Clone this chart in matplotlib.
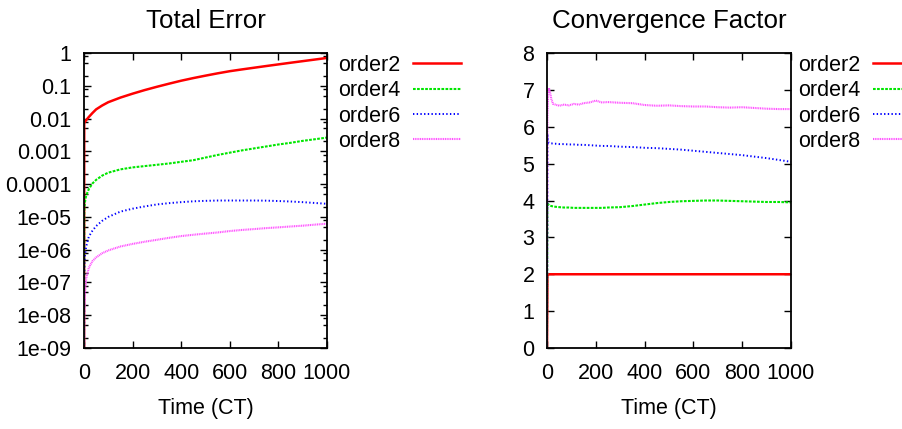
import matplotlib
matplotlib.use("Agg")
import matplotlib.pyplot as plt
from matplotlib.ticker import LogLocator, FixedLocator, NullFormatter

plt.rcParams['font.family'] = ['Liberation Sans', 'DejaVu Sans']
plt.rcParams['font.size'] = 15.5

# ---- data ----
labels = ['order2', 'order4', 'order6', 'order8']

t_err = [0, 1, 2, 4, 7, 10, 20, 35, 50, 75, 100, 150, 200, 250, 300, 350, 400,
         450, 500, 550, 600, 650, 700, 750, 800, 850, 900, 950, 1000]
err2 = [1e-12, 0.00708, 0.00759, 0.00794, 0.00851, 0.00912, 0.0112, 0.0148,
        0.0191, 0.0251, 0.0316, 0.0437, 0.0575, 0.0741, 0.0933, 0.116, 0.143,
        0.172, 0.204, 0.240, 0.279, 0.316, 0.356, 0.401, 0.450, 0.505, 0.565,
        0.632, 0.708]
err4 = [1e-12, 1.26e-5, 2.0e-5, 2.82e-5, 3.8e-5, 4.68e-5, 7.08e-5, 1.05e-4,
        1.35e-4, 1.82e-4, 2.24e-4, 2.82e-4, 3.24e-4, 3.55e-4, 3.89e-4, 4.27e-4,
        4.79e-4, 5.37e-4, 6.46e-4, 7.76e-4, 9.12e-4, 1.07e-3, 1.23e-3, 1.41e-3,
        1.62e-3, 1.82e-3, 2.09e-3, 2.34e-3, 2.63e-3]
err6 = [1e-12, 1.58e-7, 3.55e-7, 6.3e-7, 1.0e-6, 1.32e-6, 2.51e-6, 3.8e-6,
        5.25e-6, 7.59e-6, 1.0e-5, 1.45e-5, 1.78e-5, 2.09e-5, 2.4e-5, 2.63e-5,
        2.82e-5, 2.99e-5, 3.09e-5, 3.16e-5, 3.16e-5, 3.16e-5, 3.16e-5, 3.13e-5,
        3.05e-5, 2.95e-5, 2.82e-5, 2.66e-5, 2.51e-5]
err8 = [1e-12, 3e-9, 1.5e-8, 4.5e-8, 9e-8, 1.4e-7, 2.8e-7, 4.5e-7, 5.8e-7, 7.8e-7,
        9.5e-7, 1.25e-6, 1.5e-6, 1.75e-6, 2.0e-6, 2.3e-6, 2.6e-6, 2.85e-6, 3.1e-6,
        3.35e-6, 3.7e-6, 4.0e-6, 4.25e-6, 4.55e-6, 4.8e-6, 5.1e-6, 5.4e-6, 5.8e-6,
        6.2e-6]

t_conv = [0, 2, 5, 8, 12, 18, 25, 35, 50, 70, 90, 110, 130, 150, 175, 200, 225,
          250, 300, 350, 400, 450, 500, 550, 600, 650, 700, 750, 800, 850, 900,
          950, 1000]
conv2 = [0] + [2.0] * 32
conv4 = [0, 3.95, 3.90, 3.88, 3.86, 3.85, 3.84, 3.83, 3.82, 3.81, 3.81, 3.80,
         3.80, 3.80, 3.80, 3.80, 3.80, 3.81, 3.82, 3.85, 3.89, 3.93, 3.96, 3.98,
         3.99, 4.00, 4.00, 3.99, 3.98, 3.97, 3.96, 3.96, 3.95]
conv6 = [0, 5.80, 5.60, 5.56, 5.55, 5.55, 5.54, 5.54, 5.53, 5.53, 5.52, 5.52,
         5.51, 5.51, 5.50, 5.49, 5.48, 5.48, 5.46, 5.45, 5.43, 5.42, 5.40, 5.38,
         5.35, 5.32, 5.29, 5.26, 5.23, 5.19, 5.15, 5.10, 5.05]
conv8 = [0, 6.30, 6.90, 7.05, 6.95, 6.75, 6.62, 6.60, 6.57, 6.60, 6.58, 6.62,
         6.60, 6.64, 6.66, 6.71, 6.66, 6.67, 6.65, 6.64, 6.59, 6.57, 6.58, 6.56,
         6.55, 6.55, 6.53, 6.52, 6.53, 6.51, 6.49, 6.48, 6.48]

styles = [
    dict(color='#ff0000', lw=1.8, ls='-'),
    dict(color='#00e600', lw=1.5, ls=(0, (1.3, 0.65))),
    dict(color='#0000ff', lw=1.4, ls=(0, (0.7, 1.2))),
    dict(color='#ff50ff', lw=1.5, ls=(0, (0.5, 0.35))),
]

fig = plt.figure(figsize=(9.02, 4.29), dpi=100)
ax1 = fig.add_axes([0.0931, 0.1888, 0.2694, 0.6876])
ax2 = fig.add_axes([0.6064, 0.1888, 0.2705, 0.6876])

for ys, lab, st in zip([err2, err4, err6, err8], labels, styles):
    ax1.plot(t_err, ys, label=lab, **st)
for ys, lab, st in zip([conv2, conv4, conv6, conv8], labels, styles):
    ax2.plot(t_conv, ys, label=lab, **st)

ax1.set_yscale('log')
ax1.set_ylim(1e-9, 1)
ax1.yaxis.set_major_locator(FixedLocator([10.0 ** k for k in range(-9, 1)]))
ax1.set_yticklabels(['1e-09', '1e-08', '1e-07', '1e-06', '1e-05', '0.0001',
                     '0.001', '0.01', '0.1', '1'])
ax1.yaxis.set_minor_locator(LogLocator(base=10, subs=[2, 5, 8], numticks=20))
ax1.yaxis.set_minor_formatter(NullFormatter())

ax2.set_ylim(0, 8)
ax2.set_yticks(range(0, 9))
ax2.minorticks_off()

for ax, title in [(ax1, 'Total Error'), (ax2, 'Convergence Factor')]:
    ax.set_xlim(0, 1000)
    ax.set_xticks(range(0, 1001, 200))
    ax.tick_params(which='major', direction='in', length=5, width=1,
                   top=True, right=True, pad=11)
    ax.tick_params(which='minor', direction='in', length=3, width=1,
                   top=False, right=True)
    ax.tick_params(axis='y', pad=9)
    for sp in ax.spines.values():
        sp.set_linewidth(1.3)
    ax.set_xlabel('Time (CT)', labelpad=10)
    ax.set_title(title, pad=18)

leg_kw = dict(frameon=False, markerfirst=False, loc='upper left',
              handlelength=2.2, handletextpad=0.6, labelspacing=0.2,
              borderpad=0, borderaxespad=0)
ax1.legend(bbox_to_anchor=(338 / 902, 1 - 55 / 429),
           bbox_transform=fig.transFigure, **leg_kw)
ax2.legend(bbox_to_anchor=(798 / 902, 1 - 55 / 429),
           bbox_transform=fig.transFigure, **leg_kw)

fig.savefig('out.png', dpi=100)
